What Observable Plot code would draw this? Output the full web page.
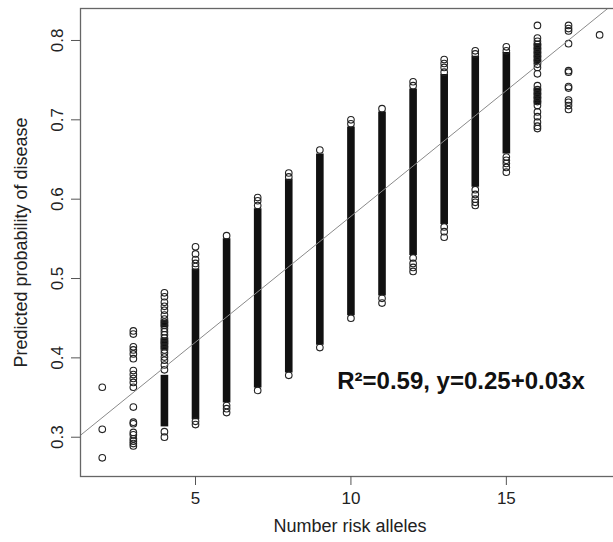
<!DOCTYPE html>
<html><head><meta charset="utf-8">
<script src="https://cdn.jsdelivr.net/npm/d3@7"></script>
<script src="https://cdn.jsdelivr.net/npm/@observablehq/plot@0.6"></script>
<style>html,body{margin:0;padding:0;background:#fff;overflow:hidden;}</style>
</head><body><div id="chart"></div>
<script>
// Number of risk alleles (x categories)
const alleles = [2, 3, 4, 5, 6, 7, 8, 9, 10, 11, 12, 13, 14, 15, 16, 17, 18];
// Individually visible predicted probabilities per allele count
const sparseY = [
  [0.363, 0.310, 0.274],
  [0.434, 0.430, 0.414, 0.410, 0.405, 0.399, 0.384, 0.379, 0.374, 0.369, 0.363, 0.338, 0.319, 0.317, 0.306, 0.303, 0.298, 0.295, 0.292, 0.289],
  [0.482, 0.477, 0.470, 0.465, 0.460, 0.454, 0.449, 0.445, 0.441, 0.437, 0.433, 0.429, 0.425, 0.421, 0.418, 0.414, 0.410, 0.406, 0.401, 0.397, 0.391, 0.385, 0.307, 0.300],
  [0.540, 0.531, 0.524, 0.519, 0.515, 0.320, 0.316],
  [0.554, 0.340, 0.336, 0.331],
  [0.602, 0.598, 0.592, 0.359],
  [0.633, 0.628, 0.378],
  [0.662, 0.413],
  [0.700, 0.695, 0.450],
  [0.714, 0.475, 0.469],
  [0.748, 0.743, 0.526, 0.519, 0.514, 0.509],
  [0.776, 0.771, 0.766, 0.760, 0.565, 0.559, 0.552],
  [0.787, 0.783, 0.612, 0.606, 0.600, 0.596, 0.592],
  [0.792, 0.787, 0.653, 0.649, 0.645, 0.640, 0.634],
  [0.819, 0.803, 0.799, 0.795, 0.790, 0.785, 0.780, 0.775, 0.770, 0.766, 0.758, 0.743, 0.738, 0.733, 0.728, 0.723, 0.718, 0.710, 0.704, 0.697, 0.692, 0.689],
  [0.819, 0.815, 0.812, 0.796, 0.762, 0.760, 0.742, 0.740, 0.725, 0.722, 0.718, 0.713],
  [0.807]
];
// Ranges where the points overlap into a solid column
const denseX    = [4,     4,     4,     5,     6,     7,     8,     9,     10,    11,    12,    13,    14,    15,    16,    16];
const denseLow  = [0.313, 0.410, 0.438, 0.322, 0.343, 0.362, 0.381, 0.416, 0.453, 0.478, 0.529, 0.568, 0.615, 0.657, 0.719, 0.770];
const denseHigh = [0.378, 0.424, 0.447, 0.512, 0.550, 0.588, 0.625, 0.657, 0.691, 0.710, 0.739, 0.757, 0.780, 0.785, 0.740, 0.796];
// Fitted regression line end points
const lineX = [1.30, 18.26];
const lineY = [0.3025, 0.8403];
const xTicks = [5, 10, 15];
const yTicks = [0.3, 0.4, 0.5, 0.6, 0.7, 0.8];
const xLabel = "Number risk alleles";
const yLabel = "Predicted probability of disease";
const annotation = "R²=0.59, y=0.25+0.03x";

const points = alleles.flatMap((a, i) => sparseY[i].map(y => ({x: a, y})));
const dense = denseX.map((x, i) => ({x, y1: denseLow[i], y2: denseHigh[i]}));
const fit = lineX.map((x, i) => ({x, y: lineY[i]}));

const chart = Plot.plot({
  width: 620,
  height: 542,
  marginLeft: 80,
  marginRight: 1,
  marginTop: 8,
  marginBottom: 66,
  style: {fontFamily: "'Liberation Sans', Arial, sans-serif", fontSize: "17px", color: "#222", background: "#fff", maxWidth: "none", overflow: "visible"},
  x: {domain: [1.30, 18.64]},
  y: {domain: [0.2505, 0.8403]},
  marks: [
    Plot.ruleX(dense, {x: "x", y1: "y1", y2: "y2", stroke: "#111", strokeWidth: 7.6}),
    Plot.dot(points, {x: "x", y: "y", r: 3.3, stroke: "#222", strokeWidth: 1.1, fill: "none"}),
    Plot.line(fit, {x: "x", y: "y", stroke: "#8a8a8a", strokeWidth: 1, clip: true}),
    Plot.frame({stroke: "#666", strokeWidth: 1.3}),
    Plot.axisX(xTicks, {tickSize: 9, tickFormat: () => "", label: null, stroke: "#555"}),
    Plot.axisY(yTicks, {tickSize: 9, tickFormat: () => "", label: null, stroke: "#555"}),
    Plot.text(xTicks, {x: d => d, frameAnchor: "bottom", dy: 27, text: d => String(d), fill: "#222", textAnchor: "middle"}),
    Plot.text(yTicks, {y: d => d, frameAnchor: "left", dx: -23, rotate: -90, text: d => String(d), fill: "#222", textAnchor: "middle"}),
    Plot.text([xLabel], {frameAnchor: "bottom", dy: 55, text: d => d, fill: "#222", fontSize: 18, textAnchor: "middle"}),
    Plot.text([yLabel], {frameAnchor: "left", dx: -59, rotate: -90, text: d => d, fill: "#222", fontSize: 18, textAnchor: "middle"}),
    Plot.text([annotation], {x: 13.54, y: 0.3705, text: d => d, fontWeight: "bold", fontSize: 24, fill: "#111"})
  ]
});
document.getElementById("chart").appendChild(chart);
</script>
</body></html>
